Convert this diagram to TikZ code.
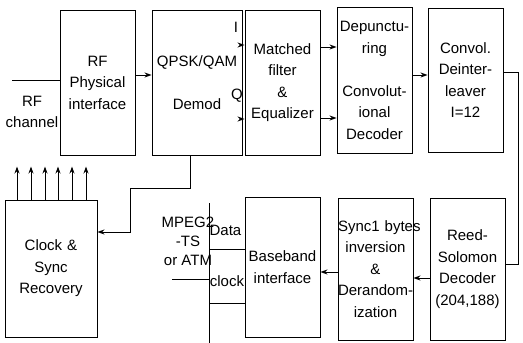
\documentclass[tikz,border=0pt]{standalone}
\usepackage{fontspec}
\setmainfont{Liberation Sans}
\usetikzlibrary{arrows.meta,positioning,calc}

\begin{document}
\begin{tikzpicture}[x=1pt, y=-1pt,
        block/.style={rectangle, draw, line width=0.9pt, text width=75pt,
            minimum height=145pt, align=center, inner sep=0pt,
            font=\fontsize{15}{21.5}\selectfont},
        lbl/.style={align=center, inner sep=0pt,
            font=\fontsize{15}{21.5}\selectfont},
        flow/.style={-{Stealth[length=7pt,width=5pt]}, line width=0.9pt},
        wire/.style={line width=0.9pt},
    ]
        \useasboundingbox (0,0) rectangle (523,343);

        % Receiver chain, top row
        \node[block] (rf) at (97.5,82.5) {RF\\Physical\\interface};
        \node[block, text width=90pt] (qpsk) at (197,82.5) {QPSK/QAM\\\mbox{}\\Demod};
        \node[block] (mf) at (282.5,82.5) {Matched\\filter\\\&\\Equalizer};
        \node[block, minimum height=146pt] (dep) at (374.5,80.5)
            {\mbox{Depunctu-}\\ring\\\mbox{}\\\mbox{Convolut-}\\ional\\Decoder};
        \node[block, minimum height=144pt] (cdi) at (465.5,80)
            {Convol.\\\mbox{Deinter-}\\leaver\\I=12};

        % Bottom row
        \node[block, text width=92pt, minimum height=137pt] (csr) at (51,268.5)
            {Clock \&\\Sync\\Recovery};
        \node[block, minimum height=140pt] (bb) at (282.5,267) {Baseband\\interface};
        \node[block, minimum height=142pt] (sync) at (375.5,269)
            {\mbox{Sync1 bytes}\\inversion\\\&\\\mbox{Derandom-}\\ization};
        \node[block, minimum height=142pt] (rs) at (467.5,269)
            {\mbox{Reed-}\\Solomon\\Decoder\\(204,188)};

        % Labels
        \node[lbl] (chan) at (32,112) {RF\\channel};
        \node[lbl] (ilbl) at (236,27) {I};
        \node[lbl] (qlbl) at (237,96) {Q};
        \node[lbl, font=\fontsize{15}{19}\selectfont] (mpeg) at (188,241)
            {MPEG2\\-TS\\or ATM};
        \node[lbl] (data) at (225.5,230) {Data};
        \node[lbl] (clk) at (227,281) {clock};

        % Coordinates
        \coordinate (rfin) at (12,80);
        \coordinate (fb) at (130,188);
        \coordinate (dtop) at (209,203);
        \coordinate (dbot) at (209,343);
        \coordinate (d1) at (209,249);
        \coordinate (d2) at (209,303);
        \coordinate (tsin) at (172,279);

        % Flows
        \draw[wire] (rfin) -- (rfin -| rf.west);
        \draw[flow] ([yshift=7.5pt]rf.east) -- ([yshift=7.5pt]qpsk.west);
        \draw[flow] ([yshift=37.5pt]qpsk.east) -- ([yshift=37.5pt]mf.west);
        \draw[flow] ([yshift=-36.5pt]qpsk.east) -- ([yshift=-36.5pt]mf.west);
        \draw[flow] ([yshift=35.5pt]mf.east) -- ([yshift=33.5pt]dep.west);
        \draw[flow] ([yshift=-35.5pt]mf.east) -- ([yshift=-37.5pt]dep.west);
        \draw[flow] ([yshift=5.5pt]dep.east) -- ([yshift=5pt]cdi.west);
        \draw[wire] ([yshift=8pt]cdi.east) -- ++(15,0) |- ([yshift=5pt]rs.east);
        \draw[flow] ([yshift=-9pt]rs.west) -- ([yshift=-9pt]sync.east);
        \draw[flow] ([yshift=-3pt]sync.west) -- ([yshift=-5pt]bb.east);
        \draw[flow] ([xshift=-7pt]qpsk.south) |- (fb) |- ([yshift=36.5pt]csr.east);
        \foreach \x in {17,31,45,58,72,86}
            \draw[flow] (csr.north -| \x,0) -- ++(0,-33);

        % Transport stream interface
        \draw[wire] (dtop) -- (dbot);
        \draw[wire] (d1) -- (d1 -| bb.west);
        \draw[wire] (d2) -- (d2 -| bb.west);
        \draw[wire] (tsin) -- (tsin -| dtop);
    \end{tikzpicture}
\end{document}
